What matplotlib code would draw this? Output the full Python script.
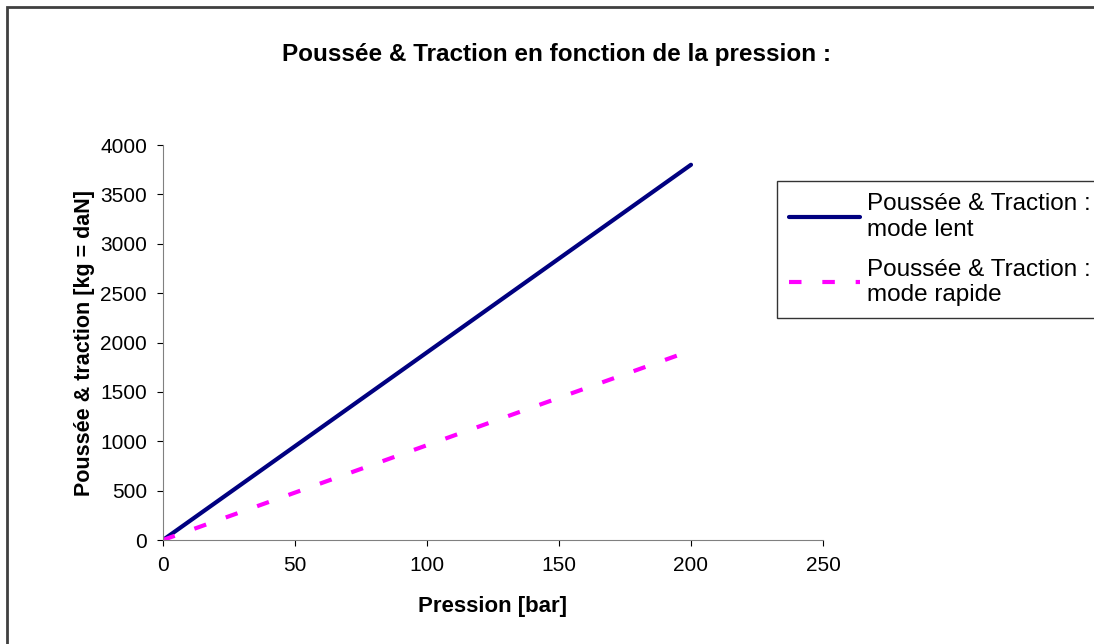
import matplotlib
matplotlib.use("Agg")
import matplotlib.pyplot as plt
from matplotlib.patches import Rectangle

plt.rcParams["font.family"] = ["Liberation Sans", "DejaVu Sans"]

# data
pression_lent = [0, 50, 100, 150, 200]
force_lent = [0, 950, 1900, 2850, 3800]
pression_rapide = [0, 50, 100, 150, 195]
force_rapide = [0, 480, 960, 1440, 1870]

x_ticks = [0, 50, 100, 150, 200, 250]
y_ticks = [0, 500, 1000, 1500, 2000, 2500, 3000, 3500, 4000]

W, H = 1094, 644
fig = plt.figure(figsize=(W / 100, H / 100), dpi=100)
ax = fig.add_axes([163 / W, 1 - 540 / H, 660 / W, 395 / H])

# outer chart border (cut off on right / bottom like the original)
fig.patches.append(Rectangle((7 / W, -0.1), 1.2, 1 - 7 / H + 0.1,
                             transform=fig.transFigure, fill=False,
                             edgecolor="#404040", lw=2))

ax.plot(pression_lent, force_lent, color="#000080", lw=3,
        solid_capstyle="round", label="Poussée & Traction :\nmode lent")
ax.plot(pression_rapide, force_rapide, color="#FF00FF", lw=3,
        dashes=(3, 5), label="Poussée & Traction :\nmode rapide")

ax.set_xlim(0, 250)
ax.set_ylim(0, 4000)
ax.set_xticks(x_ticks)
ax.set_yticks(y_ticks)
ax.tick_params(direction="out", length=4.5, labelsize=15, colors="black",
               pad=7)
for s in ("top", "right"):
    ax.spines[s].set_visible(False)
for s in ("left", "bottom"):
    ax.spines[s].set_color("#808080")

ax.set_xlabel("Pression [bar]", fontsize=16, fontweight="bold", labelpad=15)
ax.set_ylabel("Poussée & traction [kg = daN]", fontsize=15.5,
              fontweight="bold", labelpad=4)
fig.text(557 / W, 1 - 55 / H, "Poussée & Traction en fonction de la pression :",
         ha="center", va="center", fontsize=17.5, fontweight="bold")

leg = fig.legend(loc="upper left", bbox_to_anchor=(777 / W, 1 - 181 / H),
                 fontsize=17.5, frameon=True, fancybox=False, shadow=False,
                 handlelength=2.9, borderpad=0.5, labelspacing=0.75,
                 handletextpad=0.3, borderaxespad=0)
leg.get_frame().set_edgecolor("black")
leg.get_frame().set_linewidth(1.0)

fig.savefig("out.png", dpi=100)
